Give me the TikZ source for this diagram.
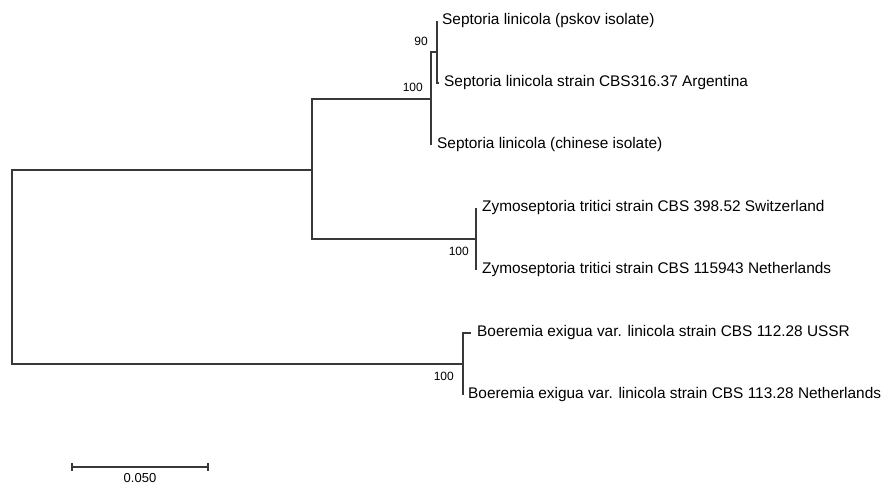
\documentclass[tikz,border=0pt]{standalone}
\usepackage{fontspec}
\setmainfont{Liberation Sans}
\usetikzlibrary{calc,positioning}

\begin{document}
\begin{tikzpicture}[x=1pt,y=-1pt,
  branch/.style={draw=black!78,line width=1.1pt},
  taxon/.style={anchor=west,inner sep=0pt,font=\fontsize{15.4}{17}\selectfont},
  support/.style={inner sep=0pt,font=\fontsize{12}{13}\selectfont}]
\useasboundingbox (0,0) rectangle (885,485);
\clip (0,0) rectangle (885,485);
\newcommand{\elbow}[2]{\draw[branch] (#1) |- (#2);}
% internal nodes
\coordinate (root) at (12,267);
\coordinate (nA) at (312,170);
\coordinate (nB) at (463,364);
\coordinate (nS) at (431,99);
\coordinate (nP) at (437,52);
\coordinate (nZ) at (476,239);
% tips
\coordinate (t1) at (437,21);
\coordinate (t2) at (439,83);
\coordinate (t3) at (431,145);
\coordinate (t4) at (476,208);
\coordinate (t5) at (476,270);
\coordinate (t6) at (471,333);
\coordinate (t7) at (463,395);
% branches
\elbow{root}{nA}
\elbow{root}{nB}
\elbow{nA}{nS}
\elbow{nA}{nZ}
\elbow{nS}{nP}
\elbow{nS}{t3}
\elbow{nP}{t1}
\elbow{nP}{t2}
\elbow{nZ}{t4}
\elbow{nZ}{t5}
\elbow{nB}{t6}
\elbow{nB}{t7}
% taxa
\node[taxon,right=5pt of t1] (pskov) {Septoria linicola (pskov isolate)};
\node[taxon,right=5pt of t2] (argent) {Septoria linicola strain CBS316.37 Argentina};
\node[taxon,right=6pt of t3] (chinese) {Septoria linicola (chinese isolate)};
\node[taxon,right=6pt of t4] (zswiss) {Zymoseptoria tritici strain CBS 398.52 Switzerland};
\node[taxon,right=6pt of t5] (zneth) {Zymoseptoria tritici strain CBS 115943 Netherlands};
\node[taxon,right=6pt of t6] (bussr) {Boeremia exigua var. linicola strain CBS 112.28 USSR};
\node[taxon,right=5pt of t7] (bneth) {Boeremia exigua var. linicola strain CBS 113.28 Netherlands};
% bootstrap values
\node[support,anchor=south east] (bsP) at ($(nP)+(-9,-6)$) {90};
\node[support,anchor=south east] (bsS) at ($(nS)+(-8,-7)$) {100};
\node[support,anchor=north east] (bsZ) at ($(nZ)+(-7,8)$) {100};
\node[support,anchor=north east] (bsB) at ($(nB)+(-9,8)$) {100};
% scale bar
\coordinate (sL) at (72,467);
\coordinate (sR) at (208,467);
\draw[branch] (sL) -- (sR);
\draw[branch] ($(sL)+(0,-4)$) -- ($(sL)+(0,4)$);
\draw[branch] ($(sR)+(0,-4)$) -- ($(sR)+(0,4)$);
\node[support,anchor=north,font=\fontsize{13}{14}\selectfont] (scl) at ($(sL)!0.5!(sR)+(0,6)$) {0.050};
\end{tikzpicture}
\end{document}
